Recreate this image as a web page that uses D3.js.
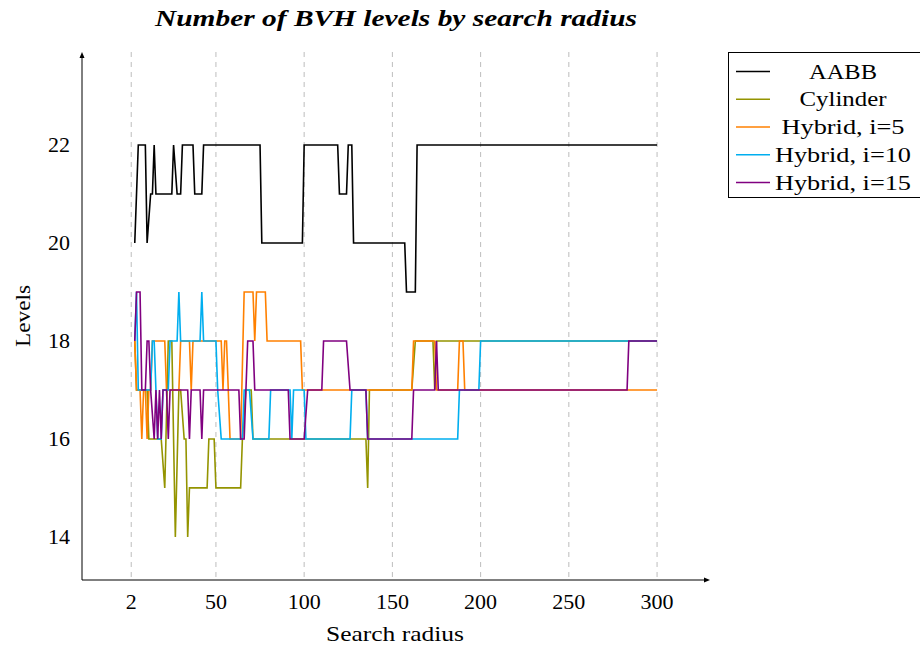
<!DOCTYPE html>
<html><head><meta charset="utf-8">
<script src="https://cdn.jsdelivr.net/npm/d3@7"></script>
<style>body{margin:0;background:#fff}svg{display:block}</style>
</head><body>
<svg id="c" width="920" height="651"></svg>
<script>
const xTicks = [2, 50, 100, 150, 200, 250, 300];
const yTicks = [14, 16, 18, 20, 22];
const seriesNames = ["AABB", "Cylinder", "Hybrid, i=5", "Hybrid, i=10", "Hybrid, i=15"];
const seriesColors = ["#000000", "#949400", "#ff8000", "#00aeef", "#800080"];

const aabb = [[4,20],[6,22],[10,22],[11,20],[13,21],[14,21],[15,22],[16,21],[25,21],[26,22],[28,21],[30,21],[31,22],[37,22],[38,21],[42,21],[43,22],[75,22],[76,20],[99,20],[100,22],[119,22],[120,21],[124,21],[125,22],[127,22],[128,20],[157,20],[158,19],[163,19],[164,22],[300,22]];
const cylinder = [[4,18],[5,17],[11,17],[12,16],[19,16],[21,15],[23,18],[25,18],[27,14],[29,17],[30,17],[32,16],[33,16],[34,14],[35,15],[45,15],[46,16],[49,16],[50,15],[64,15],[65,16],[67,17],[70,17],[71,16],[135,16],[136,15],[137,17],[161,17],[163,18],[173,18],[174,17],[175,18],[300,18]];
const hybrid5 = [[4,18],[5,17],[7,17],[8,16],[9,17],[10,17],[11,16],[12,17],[13,17],[14,18],[21,18],[22,17],[29,17],[30,18],[35,18],[36,17],[37,18],[53,18],[54,17],[55,18],[56,18],[58,16],[64,16],[66,19],[71,19],[72,18],[73,19],[78,19],[79,18],[98,18],[99,17],[161,17],[162,18],[174,18],[175,17],[187,17],[188,18],[190,18],[191,17],[300,17]];
const hybrid10 = [[4,18],[5,19],[6,17],[13,17],[14,18],[15,18],[16,17],[17,16],[19,16],[20,17],[23,17],[24,18],[28,18],[29,19],[30,18],[41,18],[42,19],[43,18],[50,18],[51,17],[53,16],[65,16],[66,17],[69,17],[71,16],[80,16],[81,17],[92,17],[93,16],[94,17],[100,17],[101,16],[126,16],[127,17],[135,17],[136,16],[187,16],[188,17],[199,17],[200,18],[300,18]];
const hybrid15 = [[4,18],[5,19],[7,19],[8,17],[10,17],[11,18],[12,18],[13,17],[15,16],[16,17],[17,16],[18,17],[19,16],[20,17],[22,17],[23,16],[24,17],[34,17],[35,16],[36,17],[41,17],[42,16],[43,17],[63,17],[64,16],[66,16],[68,18],[71,18],[72,17],[91,17],[92,16],[100,16],[102,17],[110,17],[111,18],[124,18],[126,17],[135,17],[136,16],[161,16],[162,17],[174,17],[175,18],[176,17],[283,17],[284,18],[300,18]];
const seriesData = [aabb, cylinder, hybrid5, hybrid10, hybrid15];

const FONT = "'Liberation Serif','DejaVu Serif',serif";
const svg = d3.select("#c");
const L = 82, R = 710, T = 52, B = 580;
const x = d3.scaleLinear().domain([-25.9, 330]).range([L, R]);
const y = d3.scaleLinear().domain([13.12, 23.9]).range([B, T]);

// grid
svg.append("g").selectAll("line").data(xTicks).join("line")
  .attr("x1", d => x(d)).attr("x2", d => x(d))
  .attr("y1", T).attr("y2", B)
  .attr("stroke", "#bdbdbd").attr("stroke-width", 1).attr("stroke-dasharray", "5,5");

// clip
svg.append("clipPath").attr("id", "clip").append("rect")
  .attr("x", L).attr("y", T).attr("width", R - L).attr("height", B - T);

const line = d3.line().x(d => x(d[0])).y(d => y(d[1]));
const gl = svg.append("g").attr("clip-path", "url(#clip)");
seriesData.forEach((s, i) => {
  gl.append("path").datum(s).attr("d", line)
    .attr("fill", "none").attr("stroke", seriesColors[i])
    .attr("stroke-width", 1.6).attr("stroke-linejoin", "miter");
});

// axes lines with arrows
svg.append("line").attr("x1", L).attr("x2", L).attr("y1", B).attr("y2", T + 3)
  .attr("stroke", "#000").attr("stroke-width", 1);
svg.append("path").attr("d", `M${L},${T} L${L-2.5},${T+6} L${L+2.5},${T+6} Z`).attr("fill", "#000");
svg.append("line").attr("x1", L).attr("x2", R - 3).attr("y1", B).attr("y2", B)
  .attr("stroke", "#000").attr("stroke-width", 1);
svg.append("path").attr("d", `M${R},${B} L${R-6},${B-2.5} L${R-6},${B+2.5} Z`).attr("fill", "#000");

// tick labels
svg.append("g").selectAll("text").data(xTicks).join("text")
  .attr("x", d => x(d)).attr("y", 609)
  .attr("text-anchor", "middle").attr("font-family", FONT).attr("font-size", 22)
  .text(d => d);
svg.append("g").selectAll("text").data(yTicks).join("text")
  .attr("x", 70).attr("y", d => y(d) + 7)
  .attr("text-anchor", "end").attr("font-family", FONT).attr("font-size", 22)
  .text(d => d);

// axis labels
svg.append("text").attr("x", 395).attr("y", 641).attr("text-anchor", "middle")
  .attr("font-family", FONT).attr("font-size", 22)
  .attr("textLength", 138).attr("lengthAdjust", "spacingAndGlyphs").text("Search radius");
svg.append("text").attr("transform", "translate(30,316) rotate(-90)").attr("text-anchor", "middle")
  .attr("font-family", FONT).attr("font-size", 22)
  .attr("textLength", 62).attr("lengthAdjust", "spacingAndGlyphs").text("Levels");

// title
svg.append("text").attr("x", 396).attr("y", 26).attr("text-anchor", "middle")
  .attr("font-family", FONT).attr("font-size", 23).attr("font-weight", "bold").attr("font-style", "italic")
  .attr("textLength", 482).attr("lengthAdjust", "spacingAndGlyphs")
  .text("Number of BVH levels by search radius");

// legend
const legendTextW = [68, 87, 123, 136, 136];
const lg = svg.append("g");
lg.append("rect").attr("x", 728.5).attr("y", 52.5).attr("width", 220).attr("height", 145)
  .attr("fill", "#fff").attr("stroke", "#000").attr("stroke-width", 1);
const rowY = [71.5, 99.2, 127, 154.8, 182.5];
seriesNames.forEach((n, i) => {
  lg.append("line").attr("x1", 736).attr("x2", 770).attr("y1", rowY[i]).attr("y2", rowY[i])
    .attr("stroke", seriesColors[i]).attr("stroke-width", 1.6);
  lg.append("text").attr("x", 843).attr("y", rowY[i] + 7).attr("text-anchor", "middle")
    .attr("font-family", FONT).attr("font-size", 22)
    .attr("textLength", legendTextW[i]).attr("lengthAdjust", "spacingAndGlyphs").text(n);
});
</script>
</body></html>
